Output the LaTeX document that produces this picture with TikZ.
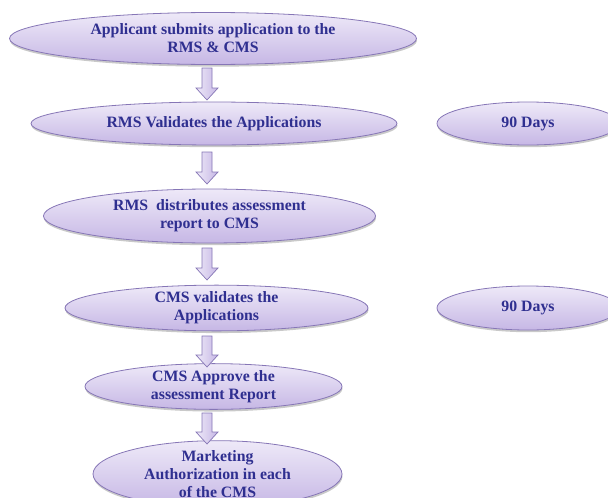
\documentclass[tikz,border=0pt]{standalone}
\usepackage{fontspec}
\setmainfont{Liberation Serif}
\usetikzlibrary{shapes.geometric,shadows,calc}
\definecolor{ellTop}{HTML}{EEE9F8}
\definecolor{ellBot}{HTML}{C6B7E5}
\definecolor{ellLine}{HTML}{8676B6}
\definecolor{txtBlue}{HTML}{2F2F90}
\tikzset{
  oval/.style={ellipse, draw=ellLine, line width=0.8pt, top color=ellTop, bottom color=ellBot,
    inner sep=0pt, align=center, text=txtBlue,
    font=\fontsize{15.8}{18}\selectfont\bfseries,
    drop shadow={shadow xshift=0.5pt, shadow yshift=-2.2pt, opacity=0.3, fill=black!70}},
  blockarrow/.style={draw=ellLine, line width=0.7pt, left color=ellTop, right color=ellBot, line join=miter}
}
\newcommand\blockarr[2]{%
  \draw[blockarrow] let \p1=(#1), \p2=(#2) in
    (\x1-5pt,\y1) -- (\x1+5pt,\y1) -- (\x1+5pt,\y2+12pt) -- (\x1+11pt,\y2+12pt)
    -- (\x1,\y2) -- (\x1-11pt,\y2+12pt) -- (\x1-5pt,\y2+12pt) -- cycle;}
\begin{document}
\begin{tikzpicture}[x=1pt,y=-1pt]
\useasboundingbox (0,0) rectangle (608,498);
\clip (0,0) rectangle (608,498);
\node[oval, minimum width=407pt, minimum height=52pt] (e1) at (213,38.5) {Applicant submits application to the\\RMS \& CMS};
\node[oval, minimum width=366pt, minimum height=43pt] (e2) at (214,123.5) {RMS Validates the Applications};
\node[oval, minimum width=182pt, minimum height=43pt] (d1) at (528,123.5) {90 Days};
\node[oval, minimum width=332pt, minimum height=54pt] (e3) at (209.5,216) {RMS\ \ distributes assessment\\report to CMS};
\node[oval, minimum width=303pt, minimum height=44pt] (e4) at (216.5,308) {CMS validates the\\Applications};
\node[oval, minimum width=182pt, minimum height=44pt] (d2) at (528,308) {90 Days};
\node[oval, minimum width=257pt, minimum height=37pt] (e5) at (213.5,386.5) {CMS Approve the\\assessment Report};
\node[oval, minimum width=249pt, minimum height=58pt] (e6) at (217.5,474) {Marketing\\Authorization in each\\of the CMS};
\coordinate (s1) at (207,68);  \coordinate (t1) at (207,100);
\coordinate (s2) at (207,152); \coordinate (t2) at (207,184);
\coordinate (s3) at (207,248); \coordinate (t3) at (207,280);
\coordinate (s4) at (207,336); \coordinate (t4) at (207,367);
\coordinate (s5) at (207,413); \coordinate (t5) at (207,444);
\blockarr{s1}{t1}
\blockarr{s2}{t2}
\blockarr{s3}{t3}
\blockarr{s4}{t4}
\blockarr{s5}{t5}
\end{tikzpicture}
\end{document}
